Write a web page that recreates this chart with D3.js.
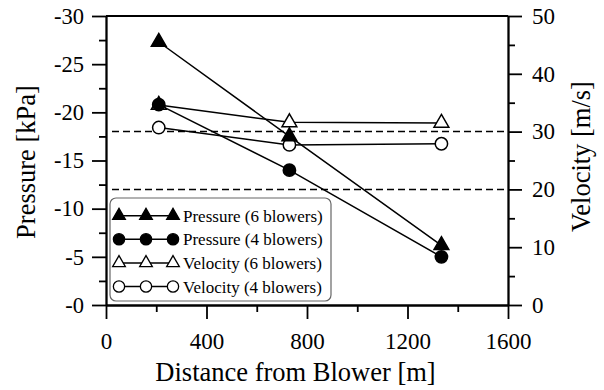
<!DOCTYPE html>
<html>
<head>
<meta charset="utf-8">
<script src="https://cdn.jsdelivr.net/npm/d3@7"></script>
</head>
<body style="margin:0">
<div id="chart"></div>
<script>
// distances along the line [m]
var distance = [210, 730, 1335];

// pressure [kPa] (left axis, drawn upside down)
var pressure6 = [-27.3, -17.5, -6.2];
var pressure4 = [-20.8, -14.0, -5.0];

// velocity [m/s] (right axis)
var velocity6 = [34.6, 31.6, 31.5];
var velocity4 = [30.7, 27.7, 27.9];

// dashed reference levels on the velocity axis
var velocityRefs = [30, 20];

var xTicks = [0, 400, 800, 1200, 1600];
var pressureTicks = [-30, -25, -20, -15, -10, -5, 0];
var velocityTicks = [0, 10, 20, 30, 40, 50];

var legendLabels = ['Pressure (6 blowers)', 'Pressure (4 blowers)', 'Velocity (6 blowers)', 'Velocity (4 blowers)'];

var W = 604, H = 390;
var margin = {left: 106, right: 96, top: 16, bottom: 85};
var width = W - margin.left - margin.right;
var height = H - margin.top - margin.bottom;

var x = d3.scaleLinear()
    .domain([0, 1600])
    .range([0, width]);

var yP = d3.scaleLinear()
    .domain([0, -30])
    .range([height, 0]);

var yV = d3.scaleLinear()
    .domain([0, 50])
    .range([height, 0]);

var root = d3.select('#chart')
    .append('svg')
    .attr('width', W)
    .attr('height', H);

root.append('rect')
    .attr('width', W)
    .attr('height', H)
    .attr('fill', 'white');

var svg = root.append('g')
    .attr('transform', 'translate(' + margin.left + ',' + margin.top + ')');

// dashed reference lines
svg.selectAll('.ref')
    .data(velocityRefs)
    .enter()
    .append('line')
    .attr('x1', 6)
    .attr('x2', width)
    .attr('y1', d => yV(d))
    .attr('y2', d => yV(d))
    .attr('stroke', 'black')
    .attr('stroke-width', 1.5)
    .attr('stroke-dasharray', '7,4');

// top frame line
svg.append('line')
    .attr('x1', 0)
    .attr('x2', width)
    .attr('y1', 0)
    .attr('y2', 0)
    .attr('stroke', 'black')
    .attr('stroke-width', 1.8);

// axes
function styleAxis(g, fontSize) {
    g.selectAll('path.domain').attr('stroke', 'black').attr('stroke-width', 1.8);
    g.selectAll('.tick line').attr('stroke', 'black').attr('stroke-width', 1.8);
    g.selectAll('text')
        .style('font-size', fontSize + 'px')
        .attr('fill', 'black');
}

// minor ticks first so major ticks draw on top
svg.append('g')
    .attr('transform', 'translate(0,' + height + ')')
    .call(d3.axisBottom(x).tickValues(d3.range(200, 1600, 400)).tickSize(7).tickFormat('').tickSizeOuter(0))
    .call(g => styleAxis(g, 23));
svg.append('g')
    .call(d3.axisLeft(yP).tickValues(d3.range(-2.5, -30, -5)).tickSize(7).tickFormat('').tickSizeOuter(0))
    .call(g => styleAxis(g, 22));
svg.append('g')
    .attr('transform', 'translate(' + width + ',0)')
    .call(d3.axisRight(yV).tickValues(d3.range(5, 50, 10)).tickSize(7).tickFormat('').tickSizeOuter(0))
    .call(g => styleAxis(g, 22));

svg.append('g')
    .attr('transform', 'translate(0,' + height + ')')
    .call(d3.axisBottom(x).tickValues(xTicks).tickSize(14).tickPadding(14).tickSizeOuter(0)
        .tickFormat(d3.format('d')))
    .call(g => styleAxis(g, 23));

svg.append('g')
    .call(d3.axisLeft(yP).tickValues(pressureTicks).tickSize(14).tickPadding(8).tickSizeOuter(0)
        .tickFormat(d => '-' + Math.abs(d)))
    .call(g => styleAxis(g, 22.5));

svg.append('g')
    .attr('transform', 'translate(' + width + ',0)')
    .call(d3.axisRight(yV).tickValues(velocityTicks).tickSize(14).tickPadding(10).tickSizeOuter(0))
    .call(g => styleAxis(g, 23));

// axis titles
svg.append('text')
    .attr('x', 189.5)
    .attr('y', height + 76)
    .attr('text-anchor', 'middle')
    .style('font-size', '26.5px')
    .text('Distance from Blower [m]');

svg.append('text')
    .attr('transform', 'translate(' + (-71) + ',' + 146 + ') rotate(-90)')
    .attr('text-anchor', 'middle')
    .style('font-size', '26.5px')
    .text('Pressure [kPa]');

svg.append('text')
    .attr('transform', 'translate(' + (width + 82) + ',' + 140.5 + ') rotate(-90)')
    .attr('text-anchor', 'middle')
    .style('font-size', '26.5px')
    .text('Velocity [m/s]');

// series
var triangle = d3.symbol().type(d3.symbolTriangle).size(95);
var circle = d3.symbol().type(d3.symbolCircle).size(120);

var series = [
    {vals: pressure6, y: yP, sym: triangle, fill: 'black'},
    {vals: pressure4, y: yP, sym: circle, fill: 'black'},
    {vals: velocity6, y: yV, sym: triangle, fill: 'white'},
    {vals: velocity4, y: yV, sym: circle, fill: 'white'}
];

var line = d3.line();

series.forEach(function (s) {
    var pts = distance.map((d, i) => [x(d), s.y(s.vals[i])]);
    svg.append('path')
        .attr('d', line(pts))
        .attr('fill', 'none')
        .attr('stroke', 'black')
        .attr('stroke-width', 1.5);
});

// markers on top of the lines (velocity first, pressure last)
[2, 3, 0, 1].forEach(function (k) {
    var s = series[k];
    svg.selectAll(null)
        .data(distance)
        .enter()
        .append('path')
        .attr('d', s.sym)
        .attr('transform', (d, i) => 'translate(' + x(d) + ',' + s.y(s.vals[i]) + ')')
        .attr('fill', s.fill)
        .attr('stroke', 'black')
        .attr('stroke-width', 1.5);
});

// legend
var legend = svg.append('g')
    .attr('transform', 'translate(4,182)');

legend.append('rect')
    .attr('x', 0)
    .attr('y', 0)
    .attr('width', 221)
    .attr('height', 103)
    .attr('rx', 6)
    .attr('fill', 'white')
    .attr('stroke', '#666')
    .attr('stroke-width', 1.2);

var legendTri = d3.symbol().type(d3.symbolTriangle).size(70);
var legendCirc = d3.symbol().type(d3.symbolCircle).size(100);

legendLabels.forEach(function (label, i) {
    var s = series[i];
    var ly = 17.7 + i * 23.6;
    legend.append('line')
        .attr('x1', 9)
        .attr('x2', 63)
        .attr('y1', ly)
        .attr('y2', ly)
        .attr('stroke', 'black')
        .attr('stroke-width', 1.5);
    [9, 36, 63].forEach(function (mx) {
        legend.append('path')
            .attr('d', i % 2 === 0 ? legendTri() : legendCirc())
            .attr('transform', 'translate(' + mx + ',' + ly + ')')
            .attr('fill', s.fill)
            .attr('stroke', 'black')
            .attr('stroke-width', 1.3);
    });
    legend.append('text')
        .attr('x', 73)
        .attr('y', ly + 6)
        .style('font-size', '17px')
        .text(label);
});

// times-like face on every text
root.selectAll('text')
    .attr('font-family', null)
    .style('font-family', "'Liberation Serif'")
    .attr('fill', 'black');
root.selectAll('g').attr('font-family', null);
</script>
</body>
</html>
